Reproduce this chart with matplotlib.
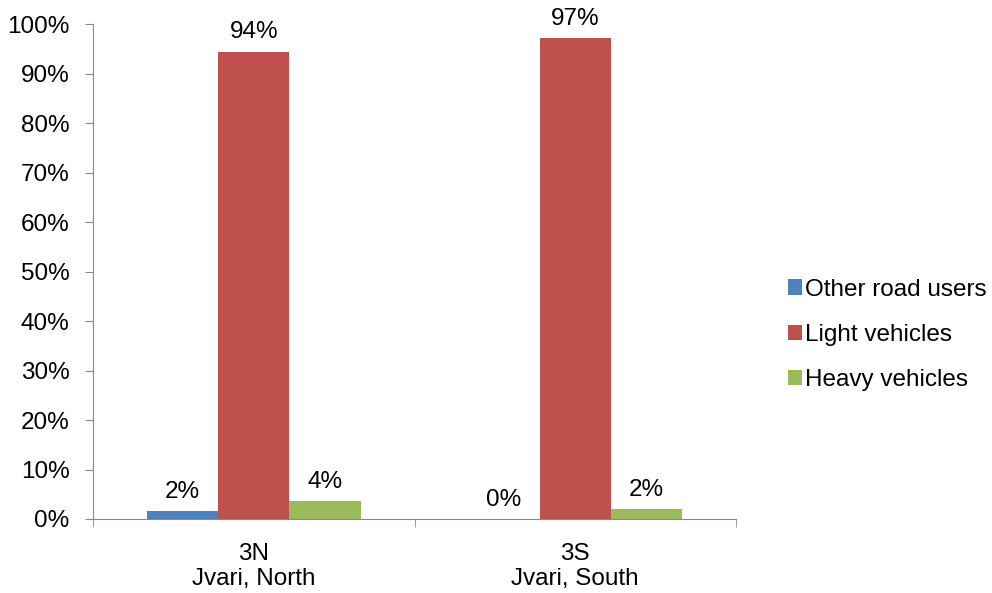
import matplotlib
matplotlib.use("Agg")
import matplotlib.pyplot as plt
from matplotlib.ticker import FixedLocator, PercentFormatter
import numpy as np

plt.rcParams['font.family'] = ['Liberation Sans', 'DejaVu Sans']

# data
sites = ["3N\nJvari, North", "3S\nJvari, South"]
series = ["Other road users", "Light vehicles", "Heavy vehicles"]
other_road = [1.6, 0.0]
light = [94.5, 97.2]
heavy = [3.6, 2.0]
colors = ["#4F81BD", "#C0504D", "#9BBB59"]

fig = plt.figure(figsize=(9.92, 5.93), dpi=100)
ax = fig.add_axes([0.0938, 0.1248, 0.6482, 0.8339])

x = np.arange(len(sites))
w = 0.222
for i, (name, vals, c) in enumerate(zip(series, [other_road, light, heavy], colors)):
    bars = ax.bar(x + (i - 1) * w, vals, w, color=c, label=name)
    for b, v in zip(bars, vals):
        ax.annotate(f"{v:.0f}%", (b.get_x() + b.get_width() / 2, v),
                    xytext=(0, 6), textcoords="offset points",
                    ha="center", va="bottom", fontsize=17.5)

ax.set_xlim(-0.5, len(sites) - 0.5)
ax.set_ylim(0, 100)
ax.yaxis.set_major_locator(FixedLocator(np.arange(0, 101, 10)))
ax.yaxis.set_major_formatter(PercentFormatter(decimals=0))
ax.set_xticks(x)
ax.set_xticklabels(sites, linespacing=1.2)
ax.xaxis.set_minor_locator(FixedLocator(np.arange(-0.5, len(sites), 1.0)))
ax.tick_params(axis="x", which="major", length=0, pad=17, labelsize=17.5)
ax.tick_params(axis="x", which="minor", length=6, color="#898989")
ax.tick_params(axis="y", length=6, color="#898989", labelsize=17.5, pad=11)

for s in ["top", "right"]:
    ax.spines[s].set_visible(False)
for s in ["left", "bottom"]:
    ax.spines[s].set_color("#898989")

fig.legend(loc="upper left", bbox_to_anchor=(0.794, 0.53), frameon=False,
           fontsize=17.5, handlelength=0.6, handleheight=0.6,
           handletextpad=0.12, labelspacing=0.95, borderpad=0, borderaxespad=0)

fig.savefig("out.png", dpi=100)
